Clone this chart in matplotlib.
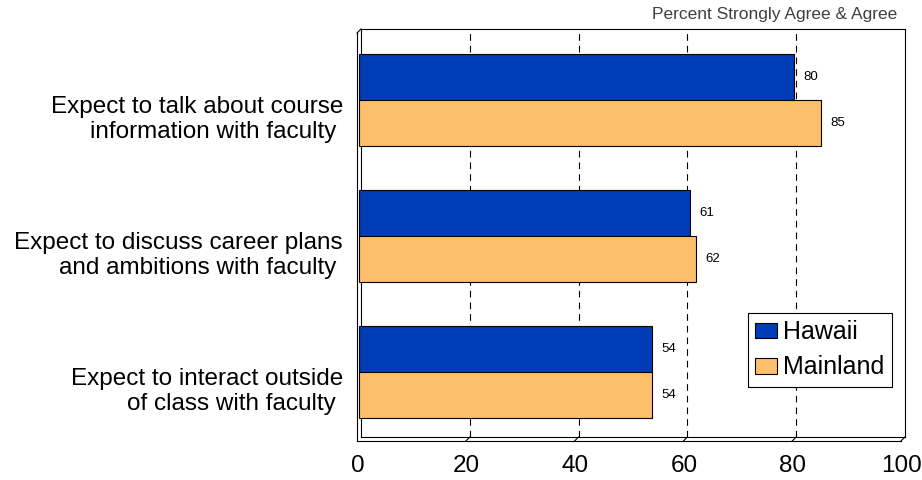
import matplotlib
matplotlib.use("Agg")
import matplotlib.pyplot as plt
from matplotlib.lines import Line2D
from matplotlib.transforms import ScaledTranslation
import numpy as np

plt.rcParams['font.family'] = ['Liberation Sans', 'DejaVu Sans']

categories = [
    "Expect to talk about course\ninformation with faculty ",
    "Expect to discuss career plans\nand ambitions with faculty ",
    "Expect to interact outside\nof class with faculty ",
]
hawaii = [80, 61, 54]
mainland = [85, 62, 54]
series_names = ["Hawaii", "Mainland"]
x_ticks = [0, 20, 40, 60, 80, 100]
subtitle = "Percent Strongly Agree & Agree"

W, H = 922, 480
DPI = 100
HAWAII_COLOR = "#003CB6"
MAINLAND_COLOR = "#FDBF6B"


def fx(x):
    return x / W


def fy(y):
    return 1 - y / H


fig = plt.figure(figsize=(W / DPI, H / DPI), dpi=DPI)
# back plane of the box
left, right, top, bottom = 361, 905, 29, 437
ax = fig.add_axes([fx(left), fy(bottom), fx(right - left), (bottom - top) / H])

y = np.arange(len(categories))
bh = 0.335
# bars sit slightly in front of the back wall
dx_px, dy_px = -2.5, -3
shift = ScaledTranslation(dx_px / DPI, dy_px / DPI, fig.dpi_scale_trans)

b1 = ax.barh(y - bh / 2, hawaii, height=bh, color=HAWAII_COLOR,
             edgecolor="black", linewidth=0.8, label=series_names[0], zorder=3)
b2 = ax.barh(y + bh / 2, mainland, height=bh, color=MAINLAND_COLOR,
             edgecolor="black", linewidth=0.8, label=series_names[1], zorder=3)
for bars in (b1, b2):
    for p in bars:
        p.set_transform(p.get_data_transform() + shift)
        p.set_clip_on(False)

for bars, vals in ((b1, hawaii), (b2, mainland)):
    for p, v in zip(bars, vals):
        ax.annotate(f"{v}", xy=(v, p.get_y() + p.get_height() / 2),
                    xytext=(5, dy_px * 0.72), textcoords="offset points",
                    ha="left", va="center", fontsize=9.5, color="black")

ax.set_xlim(0, 100)
ax.set_ylim(len(categories) - 0.5, -0.5)
ax.set_xticks(x_ticks)
ax.set_xticklabels([str(t) for t in x_ticks], fontsize=17.5)
ax.set_yticks(y)
ax.set_yticklabels(categories, fontsize=17.5, linespacing=1.22)
ax.tick_params(axis="both", length=0)
ax.tick_params(axis="x", pad=13)
ax.tick_params(axis="y", pad=13)
for lbl in ax.get_yticklabels():
    lbl.set_multialignment("right")
    lbl.set_transform(lbl.get_transform() + ScaledTranslation(0, -18 / DPI, fig.dpi_scale_trans))
for lbl in ax.get_xticklabels():
    lbl.set_transform(lbl.get_transform() + ScaledTranslation(-3.5 / DPI, 0, fig.dpi_scale_trans))

for s in ax.spines.values():
    s.set_color("black")
    s.set_linewidth(0.8)

# dashed gridlines on the back wall
for t in x_ticks[1:-1]:
    ax.axvline(t, color="black", lw=0.8, dashes=(6, 4.5), zorder=1)

# front edges of the floor and side wall
lw = 0.8
d = 4
fig.canvas.draw()
segments = [
    ([left - d, left - d], [top + d, bottom + d]),
    ([left - d, right - d], [bottom + d, bottom + d]),
    ([left, left - d], [top, top + d]),
    ([right, right - d], [bottom, bottom + d]),
]
for t in x_ticks[1:-1]:
    px = ax.transData.transform((t, 0))[0]
    segments.append(([px, px - d], [bottom, bottom + d]))
for xs, ys in segments:
    fig.add_artist(Line2D([fx(v) for v in xs], [fy(v) for v in ys],
                          transform=fig.transFigure, color="black", lw=lw))

leg = ax.legend(loc="lower right", bbox_to_anchor=(fx(892), fy(387)),
                bbox_transform=fig.transFigure, borderaxespad=0,
                fontsize=18, frameon=True, fancybox=False, shadow=False,
                handlelength=0.88, handleheight=0.6, handletextpad=0.25,
                labelspacing=0.45, borderpad=0.3)
leg.get_frame().set_edgecolor("black")
leg.get_frame().set_linewidth(0.8)
leg.get_frame().set_alpha(1)

fig.text(fx(897), fy(18.5), subtitle, ha="right", va="baseline",
         fontsize=12.5, color="#404040")

fig.savefig("out.png", dpi=DPI)
